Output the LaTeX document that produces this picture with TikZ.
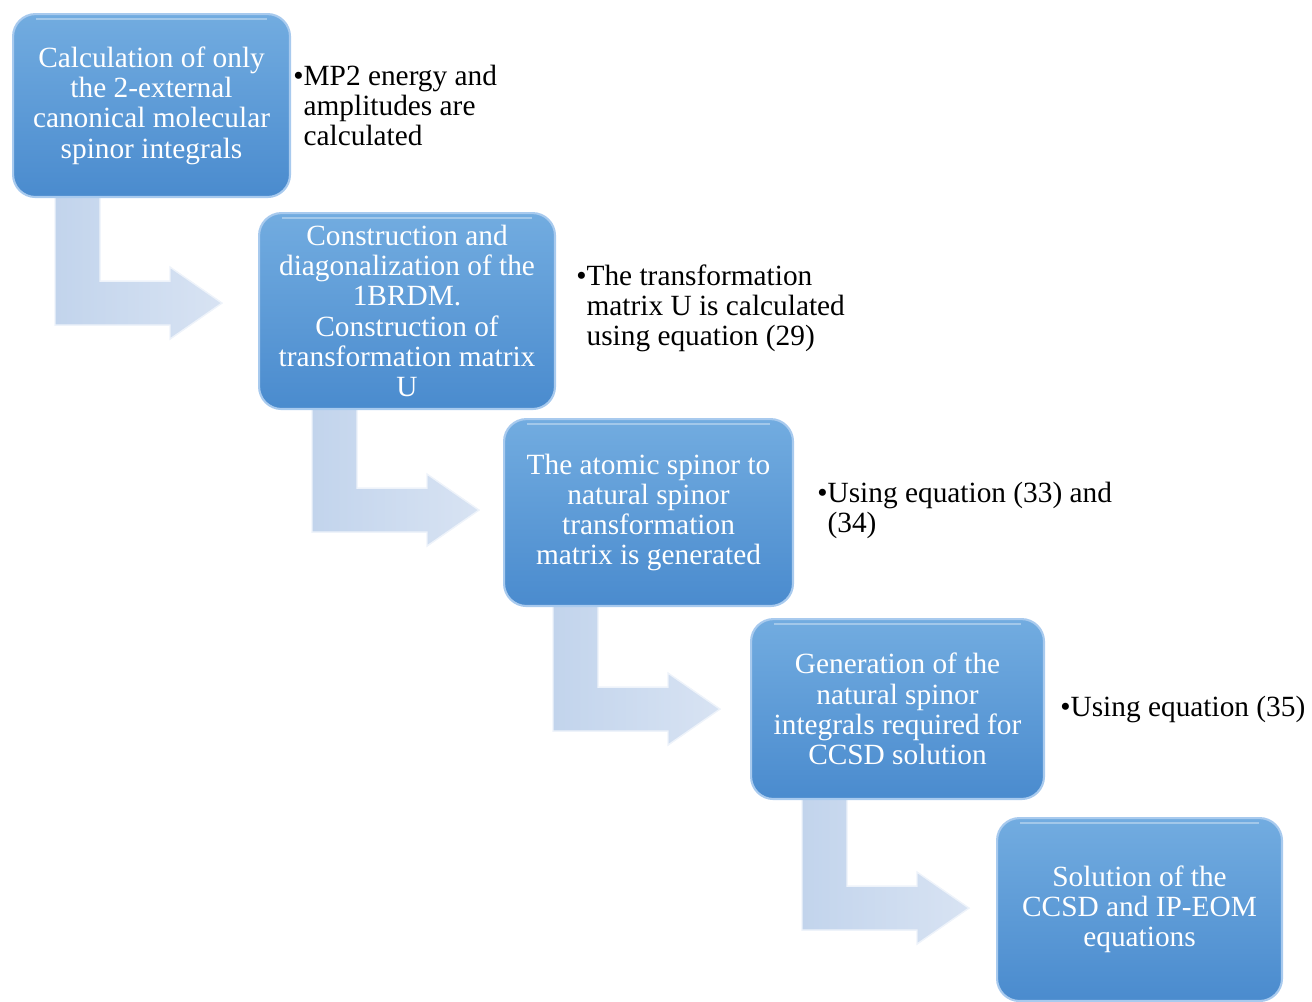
\documentclass[tikz,border=0pt]{standalone}
\usepackage{fontspec}
\setmainfont{Liberation Serif}
\usepackage{tikz}
\usetikzlibrary{positioning, calc, backgrounds}

\definecolor{boxtop}{HTML}{72ACE0}
\definecolor{boxbot}{HTML}{4A8BCE}
\definecolor{boxrim}{HTML}{A8CAEE}
\definecolor{arrowleft}{HTML}{C2D4EC}
\definecolor{arrowright}{HTML}{D8E3F3}
\definecolor{arrowrim}{HTML}{EEF3FA}

\begin{document}
\begin{tikzpicture}[x=0.02cm, y=-0.02cm,
  stepbox/.style={anchor=north west, rounded corners=0.45cm,
    top color=boxtop, bottom color=boxbot, draw=boxrim, line width=1.2pt,
    text=white, align=center, inner sep=0pt,
    font=\fontsize{16.7}{17.2}\selectfont},
  flowarrow/.style={left color=arrowleft, right color=arrowright,
    draw=arrowrim, line width=0.8pt, line join=miter},
  note/.style={anchor=base west, inner sep=0pt,
    font=\fontsize{16.7}{17.2}\selectfont}]
  % page frame
  \useasboundingbox (0,0) rectangle (1312,1001);

  % Steps
  \node[stepbox, minimum width=5.54cm, minimum height=3.66cm] (b1) at (12,13)
    {Calculation of only\\the 2-external\\canonical molecular\\spinor integrals};
  \node[stepbox, minimum width=5.92cm, minimum height=3.92cm] (b2) at (258,212)
    {Construction and\\diagonalization of the\\1BRDM.\\Construction of\\transformation matrix\\U};
  \node[stepbox, minimum width=5.78cm, minimum height=3.74cm] (b3) at (503,418)
    {The atomic spinor to\\natural spinor\\transformation\\matrix is generated};
  \node[stepbox, minimum width=5.86cm, minimum height=3.6cm] (b4) at (750,618)
    {Generation of the\\natural spinor\\integrals required for\\CCSD solution};
  \node[stepbox, minimum width=5.7cm, minimum height=3.66cm] (b5) at (996,817)
    {Solution of the\\CCSD and IP-EOM\\equations};

  % Glossy top edge of the steps
  \foreach \b in {b1,b2,b3,b4,b5}
    \draw[white, opacity=0.35, line width=1.5pt]
      ($(\b.north west)+(24,6)$) -- ($(\b.north east)+(-24,6)$);

  % Bent arrows under the steps
  \begin{scope}[on background layer]
    \foreach \from/\dx/\len in {b1/43/127, b2/54/122, b3/50/124, b4/52/130}
      \draw[flowarrow] ($(\from.south west)+(\dx,-8)$) coordinate (t\from)
        -- ++(45,0) -- ++(0,{\len-36}) -- ++(70,0) -- ++(0,-14)
        -- ++(52,36) -- ++(-52,36) -- ++(0,-14) -- ++(-115,0) -- cycle;
  \end{scope}

  % Notes
  \node[note] (n1) at (293,85)
    {\begin{tabular}[t]{@{}l@{}l@{}}\textbullet&MP2 energy and\\&amplitudes are\\&calculated\end{tabular}};
  \node[note] (n2) at (576,285)
    {\begin{tabular}[t]{@{}l@{}l@{}}\textbullet&The transformation\\&matrix U is calculated\\&using equation (29)\end{tabular}};
  \node[note] (n3) at (817,502)
    {\begin{tabular}[t]{@{}l@{}l@{}}\textbullet&Using equation (33) and\\&(34)\end{tabular}};
  \node[note] (n4) at (1060,716)
    {\begin{tabular}[t]{@{}l@{}l@{}}\textbullet&Using equation (35)\end{tabular}};
\end{tikzpicture}
\end{document}
